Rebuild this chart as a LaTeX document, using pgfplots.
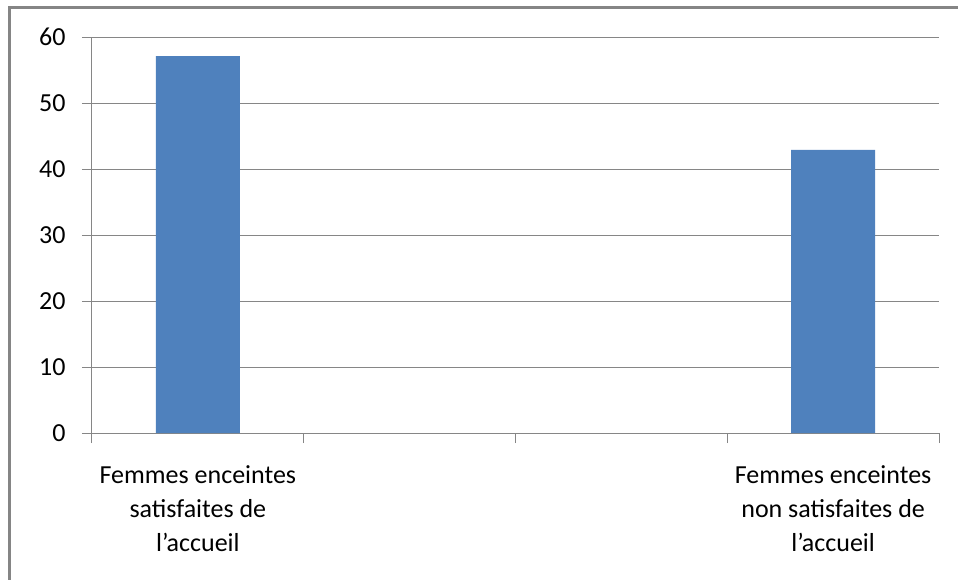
\documentclass[border=0pt]{standalone}
\usepackage{pgfplots}
\pgfplotsset{compat=1.18}
\usepackage{fontspec}
\setmainfont{Carlito}
\definecolor{barblue}{HTML}{4F81BD}
\definecolor{gridgray}{HTML}{868686}
\definecolor{bordergray}{HTML}{858585}
\begin{document}
\begin{tikzpicture}
\useasboundingbox (0pt,0pt) rectangle (958pt,-580pt);
\draw[bordergray, line width=2.2pt] (9.5pt,-590pt) -- (9.5pt,-7.5pt) -- (970pt,-7.5pt);
\begin{axis}[
  at={(92pt,-433pt)}, anchor=south west,
  scale only axis, width=847pt, height=396pt,
  xmin=0, xmax=4, ymin=0, ymax=60,
  axis x line=bottom, axis y line=left,
  axis line style={gridgray, line width=1pt, -},
  every tick/.style={gridgray, line width=1pt},
  xtick={0,1,2,3,4}, xticklabels={},
  major tick length=10pt,
  tick align=outside,
  ytick={0,10,...,60},
  ymajorgrids, grid style={gridgray, line width=1pt},
  yticklabel style={font=\fontsize{26}{30}\selectfont, xshift=-13pt},
  /pgf/number format/assume math mode=true,
  extra x ticks={0.5,3.5},
  extra x tick labels={Femmes enceintes\\satisfaites de\\l’accueil, Femmes enceintes\\non satisfaites de\\l’accueil},
  extra x tick style={major tick length=0pt, grid=none,
    xticklabel style={align=center, font=\fontsize{26}{34}\selectfont, yshift=-29pt}},
  clip=false,
]
\addplot[ybar, bar width=84pt, fill=barblue, draw=none] coordinates {(0.5,57.1) (3.5,42.9)};
\end{axis}
\end{tikzpicture}
\end{document}
